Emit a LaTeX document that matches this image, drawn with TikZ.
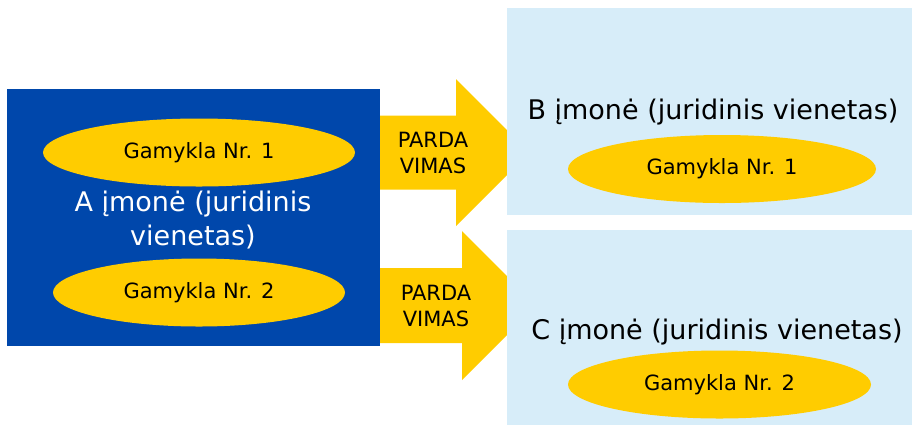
\documentclass[tikz,border=0pt]{standalone}
\usepackage{fontspec}
\setmainfont{DejaVu Sans}
\usetikzlibrary{shapes.geometric}
\definecolor{firmblue}{RGB}{0,71,171}
\definecolor{plantyellow}{RGB}{255,204,0}
\definecolor{unitblue}{RGB}{215,237,249}

\begin{document}
\begin{tikzpicture}[x=0.5pt, y=-0.5pt,
    plant/.style={ellipse, fill=plantyellow, inner sep=0pt, minimum height=34pt, font=\fontsize{10.5}{13}\selectfont},
    unit/.style={fill=unitblue, inner sep=0pt, anchor=north west},
    firm/.style={font=\fontsize{13.5}{17}\selectfont, align=center},
    salelabel/.style={font=\fontsize{10.5}{13}\selectfont, align=center}]
    \useasboundingbox (0,0) rectangle (912,425);

    % sale arrows (tips go under the right boxes)
    \foreach \c/\b/\h/\e [count=\i] in {152.5/37/456/73.5, 305.5/37.5/462/74.5}
        \fill[plantyellow] (380,\c-\b) -- (\h,\c-\b) -- (\h,\c-\e) -- (\h+\e,\c)
            -- (\h,\c+\e) -- (\h,\c+\b) -- (380,\c+\b) -- cycle;

    % firm A
    \node[fill=firmblue, inner sep=0pt, anchor=north west, minimum width=186.5pt, minimum height=128.5pt] (A) at (7,89) {};
    \node[plant, minimum width=156pt] (A1) at (199,152.5) {Gamykla Nr. 1};
    \node[plant, minimum width=146pt] (A2) at (199,292.5) {Gamykla Nr. 2};
    \node[firm, text=white] (Aname) at (193,220) {A įmonė (juridinis\\vienetas)};

    % firms B and C
    \node[unit, minimum width=202.5pt, minimum height=103.5pt] (B) at (507,8) {};
    \node[unit, minimum width=202.5pt, minimum height=97.5pt] (C) at (507,230) {};
    \node[firm] (Bname) at (713,112) {B įmonė (juridinis vienetas)};
    \node[plant, minimum width=154pt] (B1) at (722,169) {Gamykla Nr. 1};
    \node[firm] (Cname) at (717,332) {C įmonė (juridinis vienetas)};
    \node[plant, minimum width=151.5pt] (C2) at (719.5,384.5) {Gamykla Nr. 2};

    \node[salelabel] (sale1) at (433,153) {PARDA\\VIMAS};
    \node[salelabel] (sale2) at (436,306) {PARDA\\VIMAS};
\end{tikzpicture}
\end{document}
